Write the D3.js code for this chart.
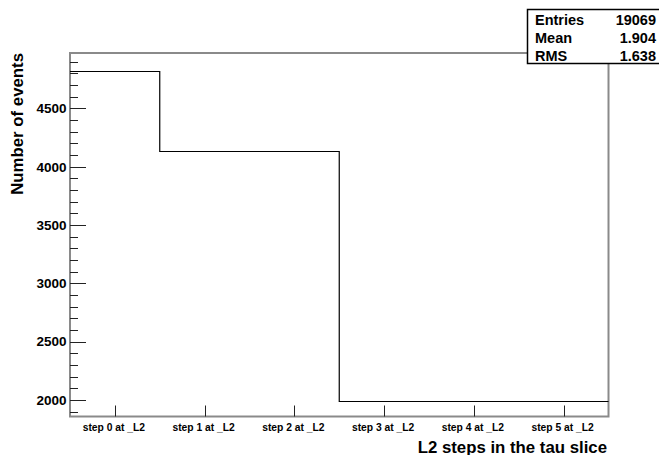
<!DOCTYPE html>
<html>
<head>
<meta charset="utf-8">
<script src="https://d3js.org/d3.v7.min.js"></script>
<style>
  body { margin: 0; background: #fff; overflow: hidden; }
  svg { display: block; }
  svg text { font-family: "Liberation Sans", Arial, sans-serif; font-weight: bold; fill: #000; }
</style>
</head>
<body>
<div id="viz"></div>
<script>
// histogram bins (one per L2 step) and their contents
var steps = ["step 0 at _L2", "step 1 at _L2", "step 2 at _L2", "step 3 at _L2", "step 4 at _L2", "step 5 at _L2"];
var counts = [4822, 4138, 4138, 1991, 1990, 1990];

// stats box
var statLabels = ["Entries", "Mean", "RMS"];
var statValues = ["19069", "1.904", "1.638"];

// y axis ticks
var yMajor = [2000, 2500, 3000, 3500, 4000, 4500];
var yMinor = d3.range(1900, 5000, 100);

var W = 659, H = 455;
var fLeft = 70, fRight = 608.5, fTop = 53, fBottom = 416.5;

var svg = d3.select("#viz").append("svg")
  .attr("width", W).attr("height", H);

var x = d3.scaleLinear().domain([-0.5, 5.5]).range([fLeft, fRight]);
var y = d3.scaleLinear().domain([1858, 4975]).range([fBottom, fTop]);

// frame
svg.append("rect")
  .attr("x", fLeft).attr("y", fTop)
  .attr("width", fRight - fLeft).attr("height", fBottom - fTop)
  .attr("fill", "none").attr("stroke", "#8a8a8a").attr("stroke-width", 2);

// y ticks: minor then major
svg.append("g").selectAll("line")
  .data(yMinor.filter(function(v) { return yMajor.indexOf(v) < 0; }))
  .enter().append("line")
    .attr("x1", fLeft).attr("x2", fLeft + 8)
    .attr("y1", function(d) { return Math.round(y(d)) + 0.5; })
    .attr("y2", function(d) { return Math.round(y(d)) + 0.5; })
    .attr("stroke", "#222").attr("stroke-width", 1);

svg.append("g").selectAll("line")
  .data(yMajor)
  .enter().append("line")
    .attr("x1", fLeft).attr("x2", fLeft + 16)
    .attr("y1", function(d) { return Math.round(y(d)) + 0.5; })
    .attr("y2", function(d) { return Math.round(y(d)) + 0.5; })
    .attr("stroke", "#222").attr("stroke-width", 1);

svg.append("g").selectAll("text")
  .data(yMajor)
  .enter().append("text")
    .attr("x", 66.5)
    .attr("y", function(d) { return y(d) + 4.8; })
    .attr("text-anchor", "end")
    .style("font-size", "13.5px")
    .text(function(d) { return d; });

// x ticks and bin labels
svg.append("g").selectAll("line")
  .data(steps)
  .enter().append("line")
    .attr("x1", function(d, i) { return Math.round(x(i)) + 0.5; })
    .attr("x2", function(d, i) { return Math.round(x(i)) + 0.5; })
    .attr("y1", fBottom).attr("y2", fBottom - 11)
    .attr("stroke", "#222").attr("stroke-width", 1);

svg.append("g").selectAll("text")
  .data(steps)
  .enter().append("text")
    .attr("x", function(d, i) { return x(i) - 1; })
    .attr("y", 431)
    .attr("text-anchor", "middle")
    .style("font-size", "10.3px")
    .text(function(d) { return d; });

// histogram outline
var pts = counts.map(function(c, i) { return [i - 0.5, c]; });
pts.push([5.5, counts[counts.length - 1]]);
svg.append("path")
  .datum(pts)
  .attr("d", d3.line()
    .x(function(d) { return x(d[0]); })
    .y(function(d) { return Math.round(y(d[1])) + 0.5; })
    .curve(d3.curveStepAfter))
  .attr("fill", "none").attr("stroke", "#000").attr("stroke-width", 1.2);

// axis titles
svg.append("text")
  .attr("x", 607).attr("y", 452.5)
  .attr("text-anchor", "end")
  .style("font-size", "16.8px")
  .text("L2 steps in the tau slice");

svg.append("text")
  .attr("transform", "translate(23,53) rotate(-90)")
  .attr("text-anchor", "end")
  .style("font-size", "16.8px")
  .text("Number of events");

// stats box
svg.append("rect")
  .attr("x", 527.5).attr("y", 9.5)
  .attr("width", 140).attr("height", 54)
  .attr("fill", "#fff").attr("stroke", "#000").attr("stroke-width", 1.5);

var rowBase = [25, 42.7, 60.5];
svg.append("g").selectAll("text")
  .data(statLabels)
  .enter().append("text")
    .attr("x", 535).attr("y", function(d, i) { return rowBase[i]; })
    .style("font-size", "14.5px")
    .text(function(d) { return d; });

svg.append("g").selectAll("text")
  .data(statValues)
  .enter().append("text")
    .attr("x", 656).attr("y", function(d, i) { return rowBase[i]; })
    .attr("text-anchor", "end")
    .style("font-size", "14.5px")
    .text(function(d) { return d; });
</script>
</body>
</html>
